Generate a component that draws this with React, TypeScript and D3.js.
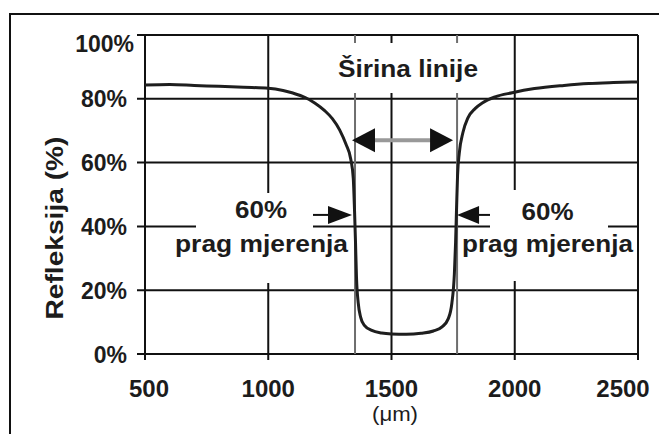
import { useEffect, useRef } from 'react'
import * as d3 from 'd3'

// reflectance profile (position in µm, reflectance in %)
const positions = [500, 600, 700, 800, 900, 1000, 1060, 1100, 1150, 1190, 1230, 1260, 1290, 1315, 1335, 1345, 1350, 1354, 1358, 1365, 1375, 1390, 1420, 1460, 1500, 1560, 1620, 1670, 1705, 1730, 1745, 1755, 1760, 1764, 1768, 1775, 1790, 1810, 1840, 1870, 1920, 1990, 2080, 2200, 2300, 2400, 2500]
const reflectance = [84.3, 84.5, 84.2, 83.9, 83.6, 83.3, 82.6, 81.8, 80.4, 78.6, 76.2, 73.8, 70.2, 65.8, 61.0, 55, 45, 35, 24, 16, 11.5, 9, 7.4, 6.6, 6.3, 6.2, 6.5, 7.2, 8.5, 11, 16, 25, 35, 46, 56, 63, 69.5, 74, 77, 78.8, 80.6, 81.9, 83.2, 84.2, 84.8, 85.1, 85.3]

const xTicks = [500, 1000, 1500, 2000, 2500]
const yTicks = [0, 20, 40, 60, 80, 100]
const lineEdges = [1352, 1766] // where the curve crosses the 60% threshold

const W = 659
const H = 434
const FONT = 'Arial, "Liberation Sans", Helvetica, sans-serif'

export default function App() {
  const svgRef = useRef<SVGSVGElement>(null)

  useEffect(() => {
    document.body.style.margin = '0'
    if (!svgRef.current) return
    const svg = d3.select(svgRef.current)
    svg.selectAll('*').remove()

    const x = d3.scaleLinear().domain([500, 2500]).range([145, 638])
    const y = d3.scaleLinear().domain([0, 100]).range([354, 35])
    const ink = '#111'

    svg.append('rect').attr('width', W).attr('height', H).attr('fill', '#fff')

    // outer frame (only top and left edges show)
    svg.append('rect')
      .attr('x', 10).attr('y', 14).attr('width', 700).attr('height', 480)
      .attr('fill', 'none').attr('stroke', ink).attr('stroke-width', 2)

    // horizontal grid + y ticks
    yTicks.forEach(t => {
      svg.append('line')
        .attr('x1', x(500) - 8).attr('x2', x(2500))
        .attr('y1', y(t)).attr('y2', y(t))
        .attr('stroke', ink).attr('stroke-width', 2)
    })
    // vertical grid + x ticks
    xTicks.forEach(t => {
      svg.append('line')
        .attr('x1', x(t)).attr('x2', x(t))
        .attr('y1', y(100)).attr('y2', y(0) + 6)
        .attr('stroke', ink).attr('stroke-width', 2)
    })

    // white boxes behind annotations
    const box = (x0: number, y0: number, x1: number, y1: number) =>
      svg.append('rect').attr('x', x0).attr('y', y0).attr('width', x1 - x0).attr('height', y1 - y0).attr('fill', '#fff')
    box(334, 43, 482, 93)
    box(196, 193, 313, 283)
    box(490, 190, 608, 281)

    // threshold lines (gray)
    lineEdges.forEach(e => {
      svg.append('line')
        .attr('x1', x(e)).attr('x2', x(e))
        .attr('y1', y(100)).attr('y2', 43)
        .attr('stroke', '#6e6e6e').attr('stroke-width', 2)
      svg.append('line')
        .attr('x1', x(e)).attr('x2', x(e))
        .attr('y1', 93).attr('y2', y(0))
        .attr('stroke', '#6e6e6e').attr('stroke-width', 2)
    })

    // curve
    const pts: [number, number][] = positions.map((p, i) => [p, reflectance[i]])
    const line = d3.line<[number, number]>()
      .x(d => x(d[0]))
      .y(d => y(d[1]))
      .curve(d3.curveMonotoneX)
    svg.append('path')
      .attr('d', line(pts) as string)
      .attr('fill', 'none')
      .attr('stroke', '#1e1e1e')
      .attr('stroke-width', 3)
      .attr('stroke-linejoin', 'round')

    // width double arrow
    const ay = y(67)
    const xl = x(lineEdges[0]) - 3
    const xr = x(lineEdges[1]) - 4
    svg.append('line')
      .attr('x1', xl + 20).attr('x2', xr - 20).attr('y1', ay).attr('y2', ay)
      .attr('stroke', '#999').attr('stroke-width', 4)
    const tri = (tipX: number, cy: number, len: number, half: number) =>
      svg.append('path')
        .attr('d', `M${tipX},${cy}L${tipX + len},${cy - half}L${tipX + len},${cy + half}Z`)
        .attr('fill', ink)
    tri(xl, ay, 23, 12)
    tri(xr, ay, -23, 12)

    // 60% threshold arrows
    const ty = y(43.6)
    const tl = x(lineEdges[0]) - 3
    const tr = x(lineEdges[1])
    svg.append('line').attr('x1', 313).attr('x2', tl - 20).attr('y1', ty).attr('y2', ty)
      .attr('stroke', ink).attr('stroke-width', 2)
    tri(tl, ty, -24, 9)
    svg.append('line').attr('x1', tr + 18).attr('x2', 490).attr('y1', ty).attr('y2', ty)
      .attr('stroke', ink).attr('stroke-width', 2)
    tri(tr, ty, 22, 9)

    const text = (tx: number, ty2: number, s: string, size: number, anchor: string, weight = 'bold', len?: number) => {
      const t = svg.append('text')
        .attr('x', tx).attr('y', ty2)
        .attr('text-anchor', anchor)
        .attr('font-family', FONT)
        .attr('font-size', size)
        .attr('font-weight', weight)
        .attr('fill', '#1c1c1c')
        .text(s)
      if (len) t.attr('textLength', len).attr('lengthAdjust', 'spacingAndGlyphs')
      return t
    }

    // y tick labels
    yTicks.forEach((t, i) => {
      const top = i === yTicks.length - 1
      text(top ? 134 : 127, y(t) + (top ? 17 : 8.5), `${t}%`, 23, 'end')
    })
    // x tick labels
    xTicks.forEach((t, i) => {
      const dx = i === 0 ? 4 : i === xTicks.length - 1 ? -15 : 0
      text(x(t) + dx, 397, String(t), 24, 'middle')
    })
    text(395, 421, '(μm)', 20, 'middle', 'normal', 46)

    // y axis title
    text(0, 0, 'Refleksija (%)', 23, 'middle', 'bold', 183)
      .attr('transform', 'translate(63,228) rotate(-90)')

    // annotations
    text(408, 77, 'Širina linije', 24, 'middle', 'bold', 140)
    text(261, 218, '60%', 24, 'middle', 'bold', 52)
    text(261.5, 252, 'prag mjerenja', 24, 'middle', 'bold', 173)
    text(547.5, 220, '60%', 24, 'middle', 'bold', 52)
    text(547.5, 252, 'prag mjerenja', 24, 'middle', 'bold', 171)
  }, [])

  return <svg ref={svgRef} width={W} height={H} style={{ display: 'block' }} />
}
